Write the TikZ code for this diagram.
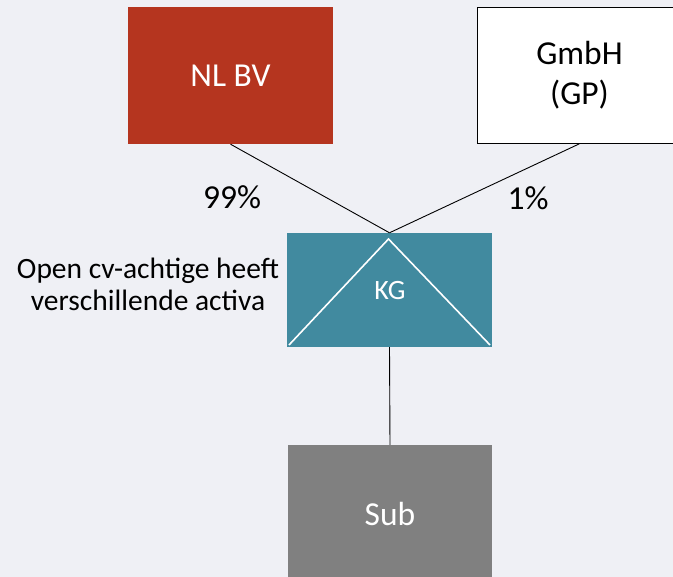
\documentclass[tikz,border=0pt]{standalone}
\usepackage{fontspec}
\setmainfont{Carlito}
\definecolor{bg}{HTML}{EFF0F5}
\definecolor{nlred}{HTML}{B5351F}
\definecolor{kgteal}{HTML}{418A9F}
\definecolor{subgray}{HTML}{808080}
\tikzset{
  entity/.style={rectangle, inner sep=0pt, minimum width=205pt, minimum height=137pt, align=center},
  conn/.style={draw=black, line width=0.9pt},
  pct/.style={font=\fontsize{33.5}{40}\selectfont, text=black},
}
\begin{document}
\begin{tikzpicture}[x=1pt,y=-1pt]
\fill[bg] (0,0) rectangle (673,577);
\useasboundingbox (0,0) rectangle (673,577);
\node[entity, fill=nlred, text=white, font=\fontsize{33.5}{40}\selectfont] (nl) at (230.5,75.5) {NL BV};
\node[entity, fill=white, draw=black, line width=0.9pt, minimum height=136pt, font=\fontsize{33.5}{40}\selectfont] (gmbh) at (579.5,75.3) {GmbH\\(GP)};
\node[entity, fill=kgteal, minimum height=114pt] (kg) at (389.5,290) {};
\draw[white, line width=1.6pt] (289,345) -- (388.5,239) -- (490,345);
\node[text=white, font=\fontsize{28}{32}\selectfont] (kgt) at (390,291) {KG};
\node[entity, fill=subgray, minimum width=204pt, minimum height=134pt] (sub) at (390,512) {};
\node[text=white, font=\fontsize{33.5}{40}\selectfont] (subt) at (390,514) {Sub};
\draw[conn] (nl.south) -- (kg.north);
\draw[conn] (gmbh.south) -- (kg.north);
\draw[conn] (kg.south) -- (sub.north);
\node[pct] (p99) at (232,197) {99\%};
\node[pct] (p1) at (528,198) {1\%};
\node[align=center, font=\fontsize{29.5}{32}\selectfont] (open) at (148,284) {Open cv-achtige heeft\\verschillende activa};
\end{tikzpicture}
\end{document}
